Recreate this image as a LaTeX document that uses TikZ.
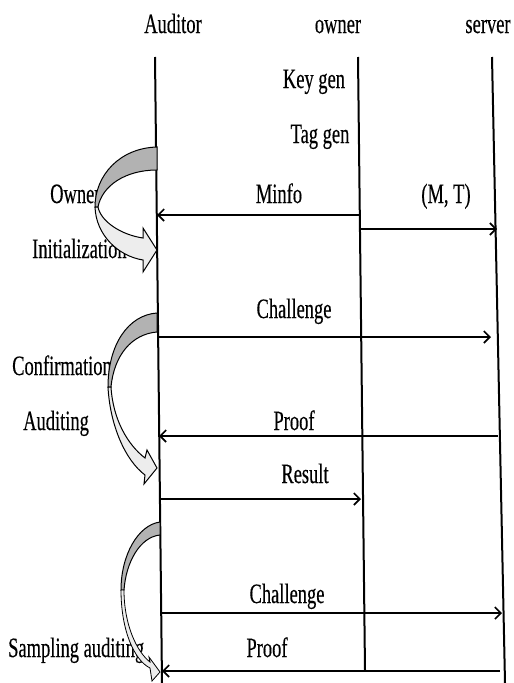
\documentclass[tikz,border=0pt]{standalone}
\usepackage{fontspec}
\setmainfont{Liberation Serif}[FakeStretch=0.66,FakeBold=0.3]
\usetikzlibrary{arrows.meta}
\begin{document}
\begin{tikzpicture}[x=1pt,y=-1pt,
  lbl/.style={font=\fontsize{28}{32}\selectfont, inner sep=0pt, text=black, anchor=base},
  plbl/.style={lbl, anchor=base west},
  life/.style={line width=2pt},
  msg/.style={line width=2.5pt, -{Straight Barb[length=6pt,width=12pt,line width=1.6pt]}},
  darkband/.style={draw=black, line width=1pt, fill=black!30},
  lightband/.style={draw=black, line width=1pt, fill=black!7}]
\useasboundingbox (0,0) rectangle (514,683);
% lifelines
\coordinate (aT) at (155,57); \coordinate (aB) at (162,683);
\coordinate (oT) at (358,57); \coordinate (oB) at (365,670);
\coordinate (sT) at (492,57); \coordinate (sB) at (505,683);
\draw[life] (aT) -- (aB);
\draw[life] (oT) -- (oB);
\draw[life] (sT) -- (sB);
% headers
\node[lbl] (hA) at (173,33) {Auditor};
\node[lbl] (hO) at (338,33) {owner};
\node[lbl] (hS) at (488,33) {server};
% owner actions
\node[lbl] (kg) at (314,88) {Key gen};
\node[lbl] (tg) at (320,143) {Tag gen};
% message endpoints
\coordinate (m1o) at (360,215); \coordinate (m1a) at (157,215);
\coordinate (m2o) at (360,229); \coordinate (m2s) at (497,229);
\coordinate (m3a) at (158,337); \coordinate (m3s) at (491,337);
\coordinate (m4s) at (498,436); \coordinate (m4a) at (159,436);
\coordinate (m5a) at (160,499); \coordinate (m5o) at (361,499);
\coordinate (m6a) at (161,613); \coordinate (m6s) at (502,613);
\coordinate (m7s) at (500,671); \coordinate (m7a) at (162,671);
\draw[msg] (m1o) -- (m1a);
\draw[msg] (m2o) -- (m2s);
\draw[msg] (m3a) -- (m3s);
\draw[msg] (m4s) -- (m4a);
\draw[msg] (m5a) -- (m5o);
\draw[msg] (m6a) -- (m6s);
\draw[msg] (m7s) -- (m7a);
% message labels
\node[lbl] (l1) at (279,203) {Minfo};
\node[lbl] (l2) at (446,203) {(M, T)};
\node[lbl] (l3) at (294,318) {Challenge};
\node[lbl] (l4) at (294,430) {Proof};
\node[lbl] (l5) at (305,483) {Result};
\node[lbl] (l6) at (287,603) {Challenge};
\node[lbl] (l7) at (267,657) {Proof};
% phase labels
\node[plbl] (p1) at (50,203) {Owner};
\node[plbl] (p2) at (32,258) {Initialization};
\node[plbl] (p3) at (12,375) {Confirmation};
\node[plbl] (p4) at (23,430) {Auditing};
\node[plbl] (p5) at (8,657) {Sampling auditing};
% curved arrow 1
\draw[darkband] (157,147) .. controls (120,148) and (95,175) .. (95,207)
  -- (98,207) .. controls (102,186) and (125,170) .. (157,170) -- cycle;
\draw[lightband] (95,207) .. controls (96,235) and (118,256) .. (143,260)
  -- (143,272) -- (157,250) -- (143,228) -- (143,238)
  .. controls (122,235) and (101,222) .. (98,207) -- cycle;
% curved arrow 2
\draw[darkband] (157,313) .. controls (128,315) and (108,345) .. (108,387)
  -- (111,387) .. controls (114,355) and (132,334) .. (157,332) -- cycle;
\draw[lightband] (108,387) .. controls (110,425) and (125,460) .. (145,475)
  -- (144,484) -- (157,468) -- (147,450) -- (145,458)
  .. controls (128,445) and (113,420) .. (111,387) -- cycle;
% curved arrow 3
\draw[darkband] (160,522) .. controls (138,525) and (121,555) .. (121,590)
  -- (124,590) .. controls (126,562) and (140,537) .. (160,535) -- cycle;
\draw[lightband, line width=0.8pt] (121,590) .. controls (121,630) and (134,660) .. (150,668)
  -- (152,681) -- (160,672) -- (149,657) -- (150,662)
  .. controls (137,652) and (124,625) .. (124,590) -- cycle;
\end{tikzpicture}
\end{document}
